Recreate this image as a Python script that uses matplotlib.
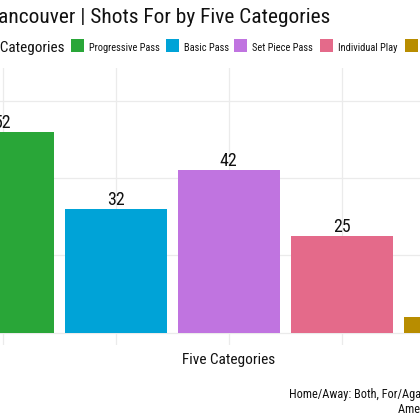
import matplotlib
matplotlib.use('Agg')
import matplotlib.pyplot as plt
from matplotlib.patches import Rectangle

categories = ['Progressive Pass', 'Basic Pass', 'Set Piece Pass', 'Individual Play', 'Other']
values = [52, 32, 42, 25, 4]
colors = ['#29a638', '#00a3d7', '#c074e0', '#e46a8a', '#b88d00']
yticks = [0, 20, 40, 60]

title = 'Vancouver | Shots For by Five Categories'
legend_title = 'Five Categories'
x_title = 'Five Categories'
caption1 = 'Home/Away: Both, For/Against: For'
caption2 = 'American Soccer Analysis'

plt.rcParams['font.family'] = ['Roboto Condensed', 'Liberation Sans Narrow', 'DejaVu Sans']
plt.rcParams['font.stretch'] = 'condensed'

W = H = 420
fig = plt.figure(figsize=(4.2, 4.2), dpi=100)
fig.patch.set_facecolor('white')
fig.canvas.draw()
renderer = fig.canvas.get_renderer()


def fx(x):
    return x / W


def fy(y):
    return 1 - y / H


def fit(text, target_px, size0=10):
    t = fig.text(0, 0, text, fontsize=size0)
    w = t.get_window_extent(renderer).width
    t.remove()
    return size0 * target_px / w


# panel
top_px, bot_px = 68, 345
ax = fig.add_axes([0, fy(bot_px), 1, (bot_px - top_px) / H])
for s in ax.spines.values():
    s.set_visible(False)
pos = list(range(len(categories)))
ax.bar(pos, values, width=0.9, color=colors)
ax.set_xticks(pos)
ax.set_xticklabels([''] * len(pos))
ax.set_yticks(yticks)
ax.set_yticklabels([''] * len(yticks))
x0, step = 2.7, 113.0
ax.set_xlim(-x0 / step, (W - x0) / step)
base = 332.7
ppu = 3.866
ax.set_ylim(-(bot_px - base) / ppu, (base - top_px) / ppu)
ax.tick_params(length=0)
ax.set_axisbelow(True)
ax.grid(True, color='#ebebeb', linewidth=0.9)

vsize = fit('32', 17.5)
for p, v in zip(pos, values):
    ax.annotate(str(v), (p, v), xytext=(0, 4), textcoords='offset pixels',
                ha='center', va='baseline', fontsize=vsize, color='#111111')

# title
tsize = fit(title[1:], 331)
fig.text(fx(330), fy(23.3), title, ha='right', va='baseline', fontsize=tsize, color='#111111')

# legend
lt_size = fit('Categories', 64)
fig.text(fx(64), fy(52), legend_title, ha='right', va='baseline', fontsize=lt_size, color='#111111')
lab_size = min(fit('Progressive Pass', 71), fit('Individual Play', 62), fit('Set Piece Pass', 62),
               fit('Basic Pass', 45))
key_x = [70.7, 165.7, 234, 320, 405]
for kx, col, lab in zip(key_x, colors, categories):
    fig.patches.append(Rectangle((fx(kx), fy(52.3)), 13 / W, 13.3 / H, transform=fig.transFigure,
                                 facecolor=col, edgecolor='none'))
    fig.text(fx(kx + 18.5), fy(50.7), lab, ha='left', va='baseline', fontsize=lab_size, color='#111111')

# axis title
xs = fit(x_title, 93)
fig.text(fx(229), fy(364.3), x_title, ha='center', va='baseline', fontsize=xs, color='#111111')

# caption
cs = fit('Home/Away: Both, For/Aga', 131)
fig.text(fx(289), fy(398.3), caption1, ha='left', va='baseline', fontsize=cs, color='#111111')
fig.text(fx(398), fy(412.7), caption2, ha='left', va='baseline', fontsize=cs, color='#111111')

fig.savefig('out.png', dpi=100, facecolor='white')
